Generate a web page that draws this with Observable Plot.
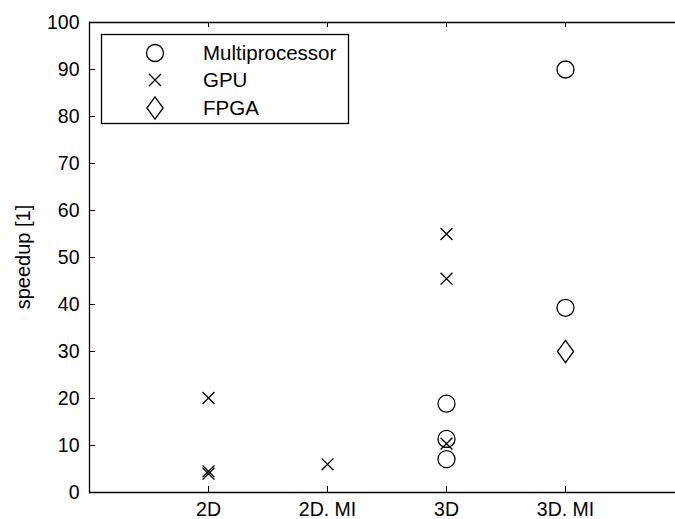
<!DOCTYPE html>
<html>
<head>
<meta charset="utf-8">
<script src="https://cdn.jsdelivr.net/npm/d3@7"></script>
<script src="https://cdn.jsdelivr.net/npm/@observablehq/plot@0.6"></script>
<style>
  body { margin: 0; background: #fff; }
  #chart svg { display: block; }
</style>
</head>
<body>
<div id="chart"></div>
<script>
// Benchmark categories along the x axis
const categories = ["2D", "2D. MI", "3D", "3D. MI"];
const seriesNames = ["Multiprocessor", "GPU", "FPGA"];
const yTicks = [0, 10, 20, 30, 40, 50, 60, 70, 80, 90, 100];

// Reported speedups per platform
const multiprocessorCategory = ["3D", "3D", "3D", "3D. MI", "3D. MI"];
const multiprocessorSpeedup = [18.9, 11.4, 7.1, 90.0, 39.3];

const gpuCategory = ["2D", "2D", "2D", "2D. MI", "3D", "3D", "3D"];
const gpuSpeedup = [20.1, 4.5, 4.0, 6.0, 55.0, 45.5, 10.4];

const fpgaCategory = ["3D. MI"];
const fpgaSpeedup = [30.0];

const rows = (cats, vals) => cats.map((c, i) => ({category: c, speedup: vals[i]}));
const multiprocessor = rows(multiprocessorCategory, multiprocessorSpeedup);
const gpu = rows(gpuCategory, gpuSpeedup);
const fpga = rows(fpgaCategory, fpgaSpeedup);

// MATLAB-like marker shapes
const circleSym = {draw(ctx, size) {
  const r = Math.sqrt(size / Math.PI);
  ctx.moveTo(r, 0); ctx.arc(0, 0, r, 0, 2 * Math.PI); ctx.closePath();
}};
const timesSym = {draw(ctx, size) {
  const r = Math.sqrt(size / Math.PI) * 0.7;
  ctx.moveTo(-r, -r); ctx.lineTo(r, r);
  ctx.moveTo(-r, r); ctx.lineTo(r, -r);
}};
const diamondSym = {draw(ctx, size) {
  const r = Math.sqrt(size / Math.PI);
  const w = r * 0.95, h = r * 1.3;
  ctx.moveTo(0, -h); ctx.lineTo(w, 0); ctx.lineTo(0, h); ctx.lineTo(-w, 0); ctx.closePath();
}};
const symbols = [circleSym, timesSym, diamondSym];

const W = 675, H = 519;
const mL = 89, mT = 22, mB = 27, mR = 0;
const frameW = W - mL - mR, frameH = H - mT - mB;
const R = 8.5;
const font = "'Liberation Sans', Arial, Helvetica, sans-serif";
const fs = 19.5;
const legendFs = 20.5;

const chart = Plot.plot({
  width: W,
  height: H,
  marginLeft: mL,
  marginTop: mT,
  marginBottom: mB,
  marginRight: mR,
  style: {fontFamily: font, fontSize: fs + "px", background: "#fff", color: "#000"},
  x: {type: "point", domain: categories, padding: 1, range: [mL, mL + 595]},
  y: {domain: [0, 100], range: [H - mB, mT]},
  marks: [
    // axis box: top, bottom and left edges
    Plot.ruleY([0, 100], {stroke: "#000", strokeWidth: 1.3}),
    Plot.frame({anchor: "left", stroke: "#000", strokeWidth: 1.3}),
    // inward tick marks
    Plot.tickY(yTicks, {y: d => d, insetRight: frameW - 6, stroke: "#000", strokeWidth: 1}),
    Plot.tickX(categories, {x: d => d, insetTop: frameH - 6, stroke: "#000", strokeWidth: 1}),
    Plot.tickX(categories, {x: d => d, insetBottom: frameH - 5, stroke: "#000", strokeWidth: 1}),
    Plot.axisY(yTicks, {tickSize: 0, tickPadding: 10, label: null, fontSize: fs, fill: "#000"}),
    Plot.axisX(categories, {tickSize: 0, tickPadding: 10, label: null, fontSize: fs, fill: "#000"}),
    // data markers
    Plot.dot(multiprocessor, {x: "category", y: "speedup", r: R, symbol: circleSym, stroke: "#000", fill: "none", strokeWidth: 1.3}),
    Plot.dot(gpu, {x: "category", y: "speedup", r: R, symbol: timesSym, stroke: "#000", fill: "none", strokeWidth: 1.3}),
    Plot.dot(fpga, {x: "category", y: "speedup", r: R, symbol: diamondSym, stroke: "#000", fill: "none", strokeWidth: 1.3})
  ]
});

const svg = d3.select(chart);

// y axis title
svg.append("text")
  .attr("transform", "translate(30,257) rotate(-90)")
  .attr("text-anchor", "middle")
  .attr("font-family", font)
  .attr("font-size", 20)
  .attr("fill", "#000")
  .text("speedup [1]");

// legend box in the upper-left corner
const lg = svg.append("g").attr("transform", "translate(101,34)");
lg.append("rect")
  .attr("x", 0.5).attr("y", 0.5)
  .attr("width", 247).attr("height", 89)
  .attr("fill", "#fff").attr("stroke", "#000").attr("stroke-width", 1.3);
const rowY = [19, 46, 74];
seriesNames.forEach((name, i) => {
  lg.append("path")
    .attr("transform", `translate(54,${rowY[i]})`)
    .attr("d", d3.symbol(symbols[i], R * R * Math.PI)())
    .attr("fill", "none").attr("stroke", "#000").attr("stroke-width", 1.3);
  lg.append("text")
    .attr("x", 102).attr("y", rowY[i])
    .attr("dy", "0.36em")
    .attr("text-anchor", "start")
    .attr("font-family", font)
    .attr("font-size", legendFs)
    .attr("fill", "#000")
    .text(name);
});

document.getElementById("chart").appendChild(chart);
</script>
</body>
</html>
